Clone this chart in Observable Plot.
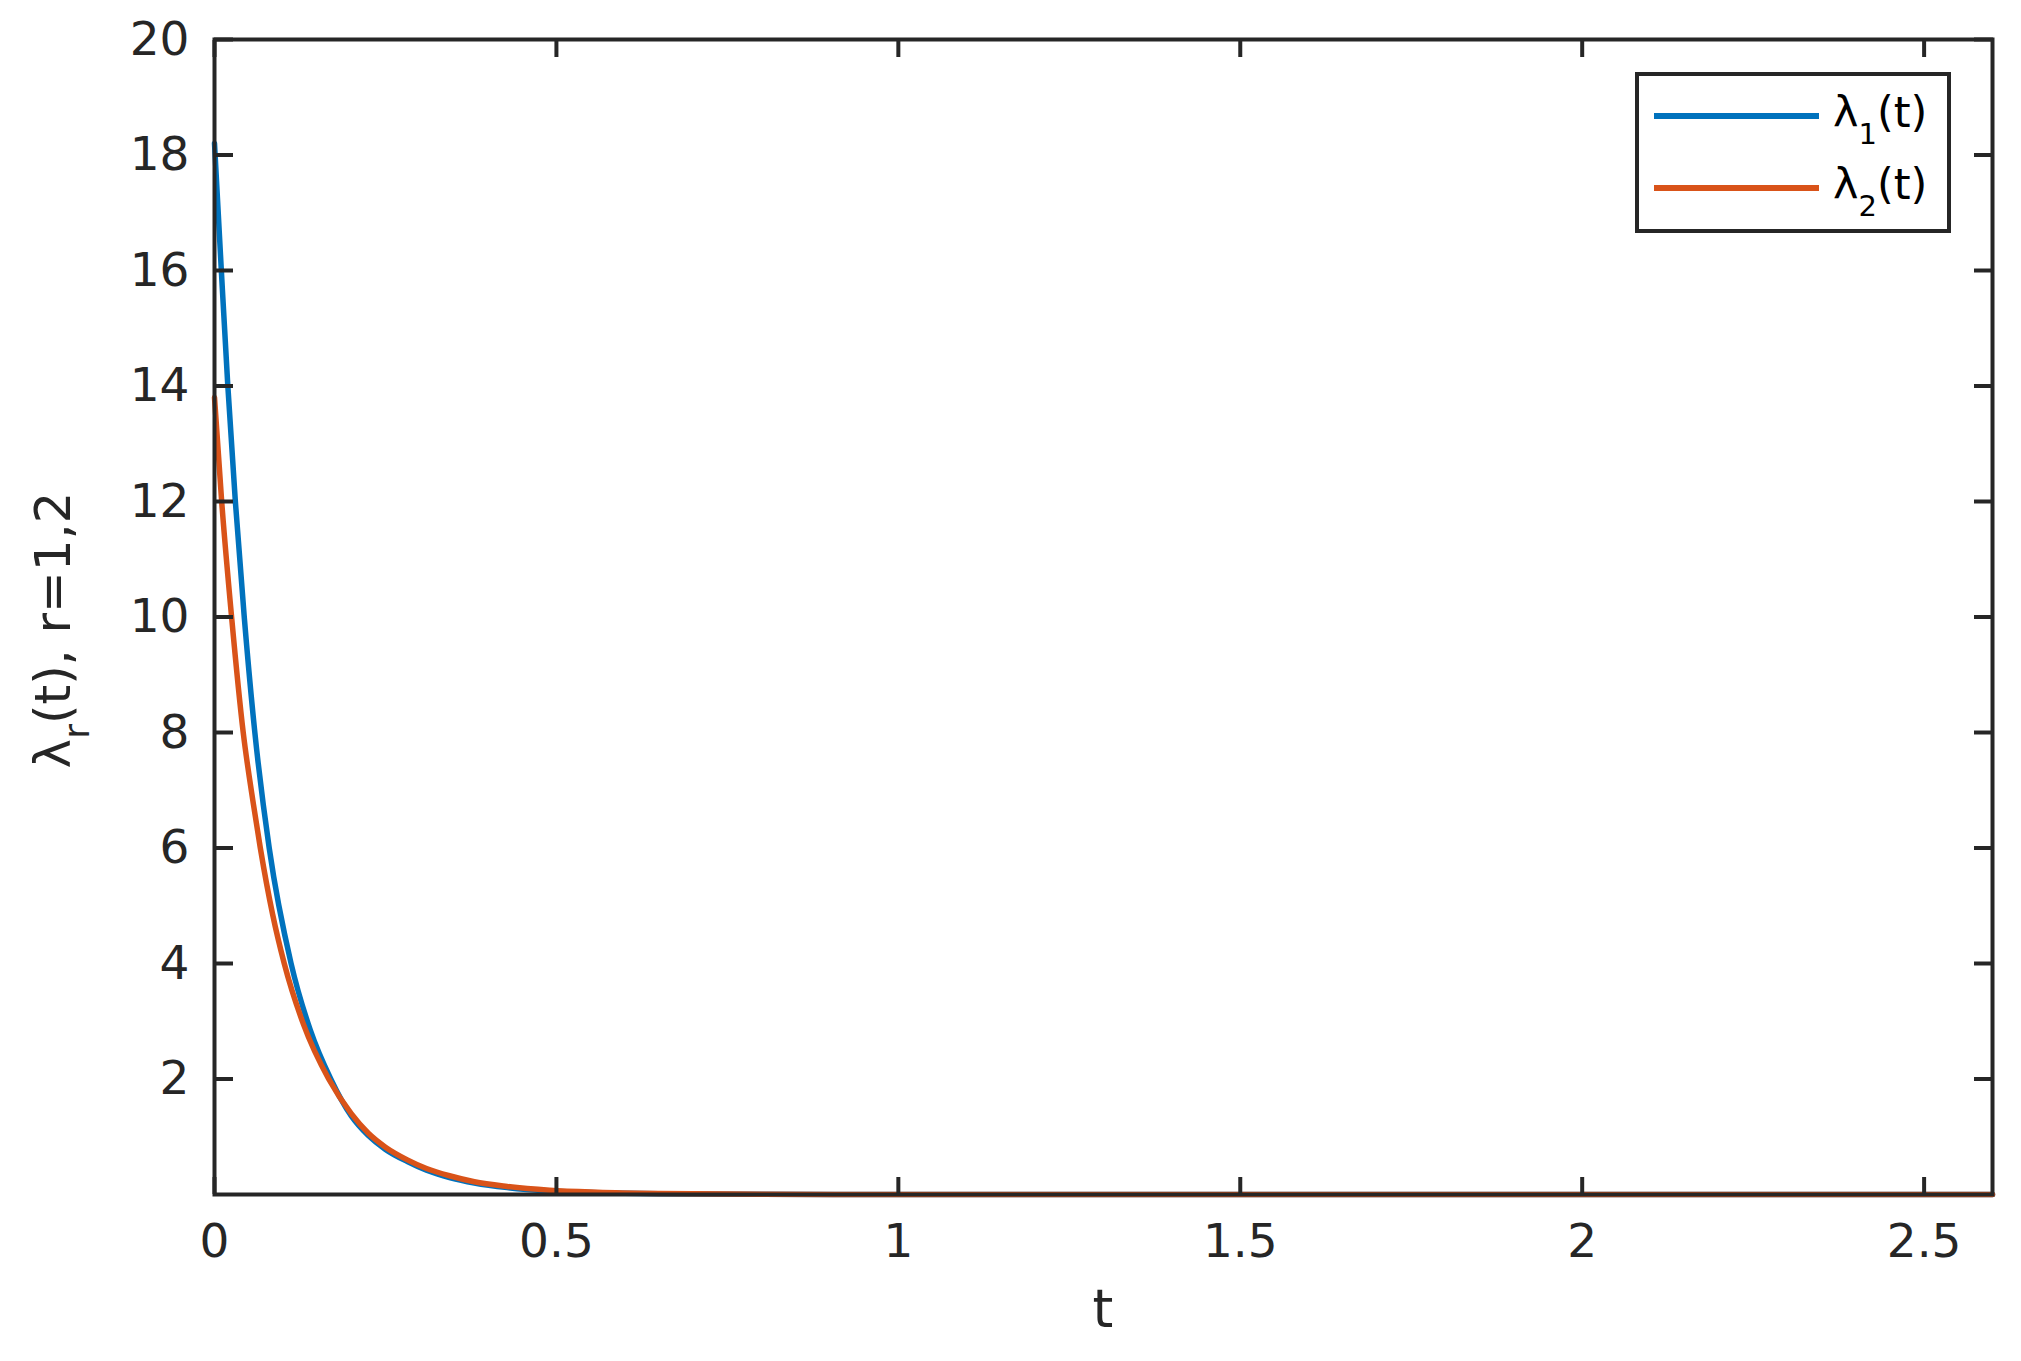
<!DOCTYPE html>
<html>
<head>
<meta charset="utf-8">
<script src="https://cdn.jsdelivr.net/npm/d3@7"></script>
<script src="https://cdn.jsdelivr.net/npm/@observablehq/plot@0.6"></script>
<style>
html, body { margin: 0; padding: 0; background: #ffffff; }
#chart svg { display: block; }
</style>
</head>
<body>
<div id="chart"></div>
<script>
// ---- data ----
const seriesNames = ["λ1(t)", "λ2(t)"];
const seriesSubs = ["1", "2"];
const seriesColors = ["#0072BD", "#D95319"];

const tLambda1 = [0, 0.010, 0.0195, 0.0305, 0.0435, 0.059, 0.080, 0.112, 0.140, 0.170, 0.200, 0.225, 0.250, 0.282, 0.310, 0.345, 0.380, 0.428, 0.490, 0.560, 0.650, 0.800, 1.000, 1.500, 2.000, 2.600];
const lambda1  = [18.2, 16.0, 14.0, 12.0, 10.0, 8.0, 6.0, 4.0, 2.85, 2.0, 1.36, 1.02, 0.78, 0.57, 0.42, 0.29, 0.20, 0.12, 0.06, 0.03, 0.012, 0.003, 0.0, 0.0, 0.0, 0.0];

const tLambda2 = [0, 0.0105, 0.025, 0.042, 0.057, 0.067, 0.085, 0.102, 0.130, 0.167, 0.200, 0.225, 0.250, 0.282, 0.310, 0.345, 0.380, 0.428, 0.490, 0.560, 0.650, 0.800, 1.000, 1.500, 2.000, 2.600];
const lambda2  = [13.8, 12.0, 10.0, 8.0, 6.75, 6.0, 4.85, 4.0, 2.95, 2.0, 1.40, 1.06, 0.82, 0.60, 0.45, 0.32, 0.22, 0.14, 0.075, 0.04, 0.018, 0.005, 0.001, 0.0, 0.0, 0.0];

const xTicks = [0, 0.5, 1, 1.5, 2, 2.5];
const xTickLabels = ["0", "0.5", "1", "1.5", "2", "2.5"];
const yTicks = [2, 4, 6, 8, 10, 12, 14, 16, 18, 20];
const yTickLabels = ["2", "4", "6", "8", "10", "12", "14", "16", "18", "20"];
const xDomain = [0, 2.6];
const yDomain = [0, 20];
const xLabel = "t";
const yLabelMain = "λ", yLabelSub = "r", yLabelRest = "(t), r=1,2";

// ---- build tables ----
const data1 = tLambda1.map((t, i) => ({t, v: lambda1[i], s: seriesNames[0]}));
const data2 = tLambda2.map((t, i) => ({t, v: lambda2[i], s: seriesNames[1]}));

const ink = "#262626";
const font = "DejaVu Sans";
const tickFont = 47;

const svgNode = Plot.plot({
  width: 2021,
  height: 1361,
  marginLeft: 214,
  marginRight: 29,
  marginTop: 39,
  marginBottom: 167,
  style: { fontFamily: font, fontSize: tickFont + "px", color: ink, background: "#ffffff" },
  x: { domain: xDomain, label: null },
  y: { domain: yDomain, label: null },
  marks: [
    Plot.line(data1, { x: "t", y: "v", stroke: seriesColors[0], strokeWidth: 5.5, curve: "monotone-x" }),
    Plot.line(data2, { x: "t", y: "v", stroke: seriesColors[1], strokeWidth: 5.5, curve: "monotone-x" }),
    Plot.frame({ stroke: ink, strokeWidth: 4 }),
    Plot.axisX(xTicks, { anchor: "bottom", tickSize: 0, tickPadding: 29, fontSize: tickFont, fill: ink,
      tickFormat: (d) => xTickLabels[xTicks.indexOf(d)], label: null }),
    Plot.axisX(xTicks, { anchor: "bottom", tickSize: -17, strokeWidth: 4, stroke: ink, fill: "none", label: null }),
    Plot.axisX(xTicks, { anchor: "top", tickSize: -17, strokeWidth: 4, stroke: ink, fill: "none", label: null }),
    Plot.axisY(yTicks, { anchor: "left", tickSize: 0, tickPadding: 25, fontSize: tickFont, fill: ink,
      tickFormat: (d) => yTickLabels[yTicks.indexOf(d)], label: null }),
    Plot.axisY(yTicks, { anchor: "left", tickSize: -19, strokeWidth: 4, stroke: ink, fill: "none", label: null }),
    Plot.axisY(yTicks, { anchor: "right", tickSize: -19, strokeWidth: 4, stroke: ink, fill: "none", label: null })
  ]
});

document.getElementById("chart").appendChild(svgNode);
const svg = d3.select(svgNode);

// x label
svg.append("text")
  .attr("x", 1103).attr("y", 1327)
  .attr("text-anchor", "middle")
  .attr("fill", ink)
  .style("font-family", font).style("font-size", "53px")
  .text(xLabel);

// y label with subscript
const yl = svg.append("text")
  .attr("transform", "translate(70,630) rotate(-90)")
  .attr("text-anchor", "middle")
  .attr("fill", ink)
  .style("font-family", font).style("font-size", "50px");
yl.append("tspan").text(yLabelMain);
yl.append("tspan").attr("dy", 19).style("font-size", "36px").text(yLabelSub);
yl.append("tspan").attr("dy", -19).style("font-size", "50px").text(yLabelRest);

// legend
const lg = svg.append("g");
lg.append("rect")
  .attr("x", 1637).attr("y", 74).attr("width", 312).attr("height", 157)
  .attr("fill", "#ffffff").attr("stroke", ink).attr("stroke-width", 4);
seriesNames.forEach((name, i) => {
  const y = 116 + i * 72;
  lg.append("line")
    .attr("x1", 1654).attr("x2", 1819).attr("y1", y).attr("y2", y)
    .attr("stroke", seriesColors[i]).attr("stroke-width", 6);
  const tx = lg.append("text")
    .attr("x", 1833).attr("y", y + 11)
    .attr("text-anchor", "start")
    .attr("fill", "#000000")
    .style("font-family", font).style("font-size", "43px");
  tx.append("tspan").text("λ");
  tx.append("tspan").attr("dy", 17).style("font-size", "29px").text(seriesSubs[i]);
  tx.append("tspan").attr("dy", -17).style("font-size", "43px").text("(t)");
});
</script>
</body>
</html>
